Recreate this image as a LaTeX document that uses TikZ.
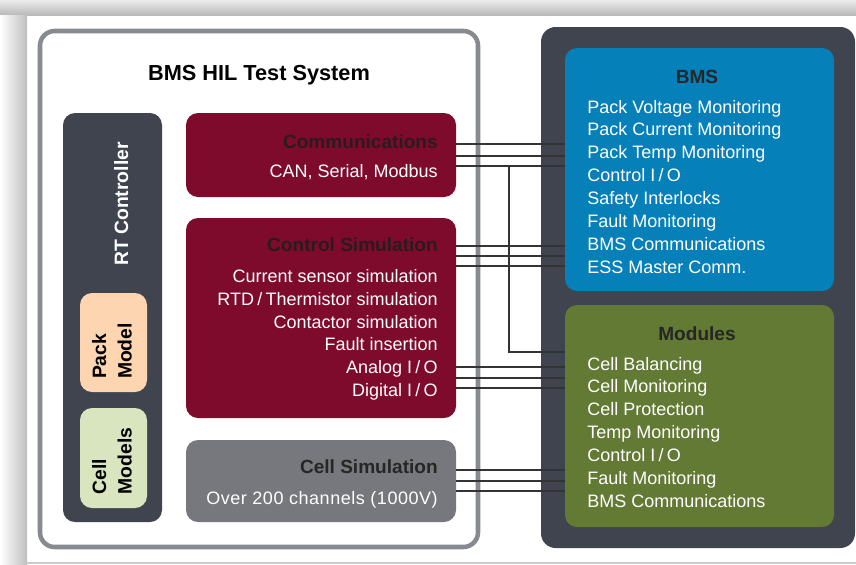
\documentclass[tikz,border=0pt]{standalone}
\usepackage{fontspec}
\setmainfont{Liberation Sans}
\usetikzlibrary{fit}
\definecolor{maroon}{HTML}{7E0B2B}
\definecolor{slate}{HTML}{40444E}
\definecolor{rimgray}{HTML}{878A8F}
\definecolor{simgray}{HTML}{76787D}
\definecolor{bmsblue}{HTML}{0580B9}
\definecolor{olive}{HTML}{637A34}
\definecolor{peach}{HTML}{FDD5B0}
\definecolor{sage}{HTML}{D8E5BE}
\definecolor{inkdark}{HTML}{2A1B1E}
\newcommand{\sep}{\kern2.5pt/\kern2.5pt}
\begin{document}
\begin{tikzpicture}[x=0.75pt,y=-0.75pt,
    box/.style={rounded corners=9pt, inner sep=0pt},
    wire/.style={draw=black!80, line width=0.9pt},
    item/.style={text=white, font=\fontsize{13.5}{16}\selectfont, inner sep=0pt},
    head/.style={text=inkdark, font=\bfseries\fontsize{14.3}{17}\selectfont, inner sep=0pt},
    vlabel/.style={rotate=90, align=left, font=\bfseries\fontsize{14.5}{19}\selectfont, inner sep=0pt}]
    \useasboundingbox (0,0) rectangle (856,564);
    % 背景与阴影
    \fill[white] (0,0) rectangle (856,564);
    \shade[top color=gray!15, bottom color=gray!55] (0,0) rectangle (856,15);
    \shade[left color=white, right color=gray!50] (0,15) rectangle (27,564);
    \draw[gray!40, line width=1.2pt] (27,563) -- (856,563);

    % HIL 测试系统
    \node[fit={(40,31) (478,547)}, draw=rimgray, line width=3.4pt, rounded corners=11pt, inner sep=0pt] (hil) {};
    \node[anchor=base, font=\bfseries\fontsize{16.3}{19}\selectfont] (title) at (259,80) {BMS HIL Test System};

    \node[box, fill=slate, fit={(63,113) (162,522)}] (rt) {};
    \node[vlabel, text=white, anchor=base] (rtlabel) at (128,204) {RT Controller};
    \node[box, fill=peach, fit={(80,293) (147,392)}] (pack) {};
    \node[vlabel] (packlabel) at (112,351) {Pack\\Model};
    \node[box, fill=sage, fit={(80,408) (147,508)}] (cells) {};
    \node[vlabel] (cellslabel) at (112,461) {Cell\\Models};

    \node[box, fill=maroon, fit={(186,113) (456,197)}] (comm) {};
    \node[head, anchor=base east] (commhead) at (438,148.5) {Communications};
    \node[item, anchor=base east] (commbus) at (438,177.5) {CAN, Serial, Modbus};

    \node[box, fill=maroon, fit={(186,218) (456,418)}] (ctrl) {};
    \node[head, anchor=base east] (ctrlhead) at (438,251.5) {Control Simulation};
    \foreach \t [count=\i from 0] in {Current sensor simulation, RTD\sep Thermistor simulation,
        Contactor simulation, Fault insertion, Analog I\sep O, Digital I\sep O}
        \node[item, anchor=base east] (ctl\i) at (438,{282.7+22.7*\i}) {\t};

    \node[box, fill=simgray, fit={(186,440) (456,522)}] (cellsim) {};
    \node[head, text=black!85, anchor=base east] (cellhead) at (438,473.5) {Cell Simulation};
    \node[item, anchor=base east] (cellch) at (438,504) {\addfontfeature{LetterSpace=3}Over 200 channels (1000V)};

    % 被测 BMS
    \node[box, fill=slate, rounded corners=11pt, fit={(541,27) (855,548)}] (dut) {};
    \node[box, fill=bmsblue, fit={(565,48) (834,291)}] (bms) {};
    \node[head, text=black!85, anchor=base] (bmshead) at (697,83.5) {BMS};
    \foreach \t [count=\i from 0] in {Pack Voltage Monitoring, Pack Current Monitoring,
        Pack Temp Monitoring, Control I\sep O, Safety Interlocks, Fault Monitoring,
        BMS Communications, ESS Master Comm.}
        \node[item, anchor=base west] (bms\i) at (587,{113+22.9*\i}) {\t};

    \node[box, fill=olive, fit={(565,305) (834,527)}] (mod) {};
    \node[head, text=black!85, anchor=base] (modhead) at (697,340) {Modules};
    \foreach \t [count=\i from 0] in {Cell Balancing, Cell Monitoring, Cell Protection,
        Temp Monitoring, Control I\sep O, Fault Monitoring, BMS Communications}
        \node[item, anchor=base west] (mod\i) at (587,{370+22.9*\i}) {\t};

    % 连线
    \foreach \y in {144,156,166}
        \draw[wire] (comm.east |- 0,\y) -- (bms.west |- 0,\y);
    \coordinate (tap) at (509,166);
    \draw[wire] (tap) |- (mod.west |- 0,352);
    \foreach \y in {246,256,266}
        \draw[wire] (ctrl.east |- 0,\y) -- (bms.west |- 0,\y);
    \foreach \y in {367,378,388}
        \draw[wire] (ctrl.east |- 0,\y) -- (mod.west |- 0,\y);
    \foreach \y in {470,481,491}
        \draw[wire] (cellsim.east |- 0,\y) -- (mod.west |- 0,\y);
\end{tikzpicture}
\end{document}
